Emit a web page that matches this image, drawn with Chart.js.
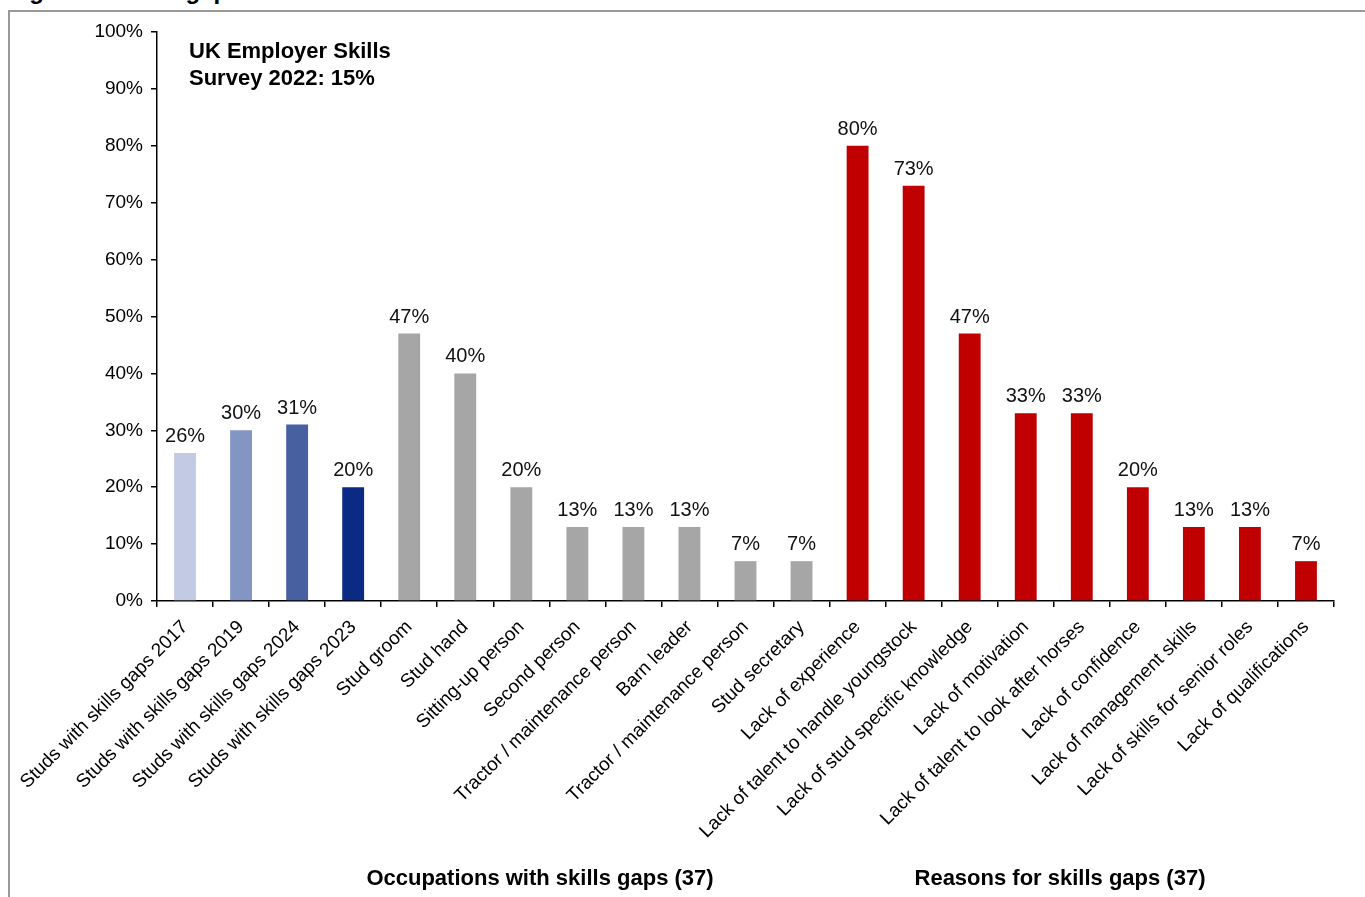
<!DOCTYPE html>
<html>
<head>
<meta charset="utf-8">
<script src="https://cdn.jsdelivr.net/npm/chart.js@4.4.1/dist/chart.umd.min.js"></script>
<style>
  html, body { margin: 0; padding: 0; background: #fff; overflow: hidden; }
  body { width: 1365px; height: 897px; position: relative; font-family: Arial, "Liberation Sans", sans-serif; }
  #title { position: absolute; left: 8px; top: -23px; font-size: 24px; font-weight: bold; color: #000; white-space: nowrap; }
  #frame { position: absolute; left: 8px; top: 10px; width: 1400px; height: 900px; border-left: 2px solid #999; border-top: 2px solid #999; }
  #wrap { position: absolute; left: 0; top: 0; width: 1365px; height: 897px; }
</style>
</head>
<body>
<div id="title">Figure 3: Skills gaps</div>
<div id="frame"></div>
<div id="wrap"><canvas id="skillsChart"></canvas></div>
<script>
const categories = [
    'Studs with skills gaps 2017', 'Studs with skills gaps 2019', 'Studs with skills gaps 2024', 'Studs with skills gaps 2023',
    'Stud groom', 'Stud hand', 'Sitting-up person', 'Second person', 'Tractor / maintenance person', 'Barn leader',
    'Tractor / maintenance person', 'Stud secretary',
    'Lack of experience', 'Lack of talent to handle youngstock', 'Lack of stud specific knowledge', 'Lack of motivation',
    'Lack of talent to look after horses', 'Lack of confidence', 'Lack of management skills', 'Lack of skills for senior roles',
    'Lack of qualifications'
];
const values = [26, 30, 31, 20, 47, 40, 20, 13, 13, 13, 7, 7, 80, 73, 47, 33, 33, 20, 13, 13, 7];
const yTicks = [0, 10, 20, 30, 40, 50, 60, 70, 80, 90, 100];
const groupLabels = ['Occupations with skills gaps (37)', 'Reasons for skills gaps (37)'];
const noteLines = ['UK Employer Skills', 'Survey 2022: 15%'];

const barColors = values.map((v, i) => {
    if (i === 0) return '#C3CAE4';
    if (i === 1) return '#8395C2';
    if (i === 2) return '#4660A0';
    if (i === 3) return '#0A2A84';
    if (i < 12) return '#A6A6A6';
    return '#C00000';
});

const FONT = 'Arial, "Liberation Sans", sans-serif';

// bar value labels, note box and group captions
const labelPlugin = {
    id: 'labelPlugin',
    afterDatasetsDraw(chart) {
        const ctx = chart.ctx;
        ctx.save();
        ctx.font = '20px ' + FONT;
        ctx.fillStyle = '#111';
        ctx.textAlign = 'center';
        ctx.textBaseline = 'alphabetic';
        chart.getDatasetMeta(0).data.forEach((bar, i) => {
            ctx.fillText(values[i] + '%', bar.x, bar.y - 11);
        });

        ctx.font = 'bold 22px ' + FONT;
        ctx.textAlign = 'left';
        ctx.fillStyle = '#000';
        ctx.fillText(noteLines[0], 189, 58);
        ctx.fillText(noteLines[1], 189, 85);

        ctx.textAlign = 'center';
        ctx.fillText(groupLabels[0], 540, 885);
        ctx.fillText(groupLabels[1], 1060, 885);
        ctx.restore();
    }
};

const ctx = document.getElementById('skillsChart').getContext('2d');
new Chart(ctx, {
    type: 'bar',
    data: {
        labels: categories,
        datasets: [{
            data: values,
            backgroundColor: barColors,
            borderWidth: 0,
            barPercentage: 0.39,
            categoryPercentage: 1.0
        }]
    },
    options: {
        responsive: true,
        maintainAspectRatio: false,
        animation: false,
        layout: { padding: { left: 0, right: 31, top: 32, bottom: 0 } },
        plugins: {
            legend: { display: false },
            tooltip: { enabled: false }
        },
        scales: {
            x: {
                offset: true,
                grid: {
                    offset: true,
                    drawOnChartArea: false,
                    drawTicks: true,
                    tickLength: 6,
                    color: '#000',
                    lineWidth: 1.5
                },
                border: { color: '#000', width: 1.5 },
                ticks: {
                    autoSkip: false,
                    maxRotation: 45,
                    minRotation: 45,
                    padding: 9,
                    color: '#000',
                    font: { size: 19, family: FONT }
                },
                afterFit(scale) { scale.height = 296; }
            },
            y: {
                min: 0,
                max: 100,
                afterBuildTicks(scale) { scale.ticks = yTicks.map(v => ({ value: v })); },
                grid: {
                    drawOnChartArea: false,
                    drawTicks: true,
                    tickLength: 6,
                    color: '#000',
                    lineWidth: 1.5
                },
                border: { color: '#000', width: 1.5 },
                ticks: {
                    padding: 8,
                    color: '#000',
                    font: { size: 19, family: FONT },
                    callback: v => v + '%'
                },
                afterFit(scale) { scale.width = 157; }
            }
        }
    },
    plugins: [labelPlugin]
});
</script>
</body>
</html>
